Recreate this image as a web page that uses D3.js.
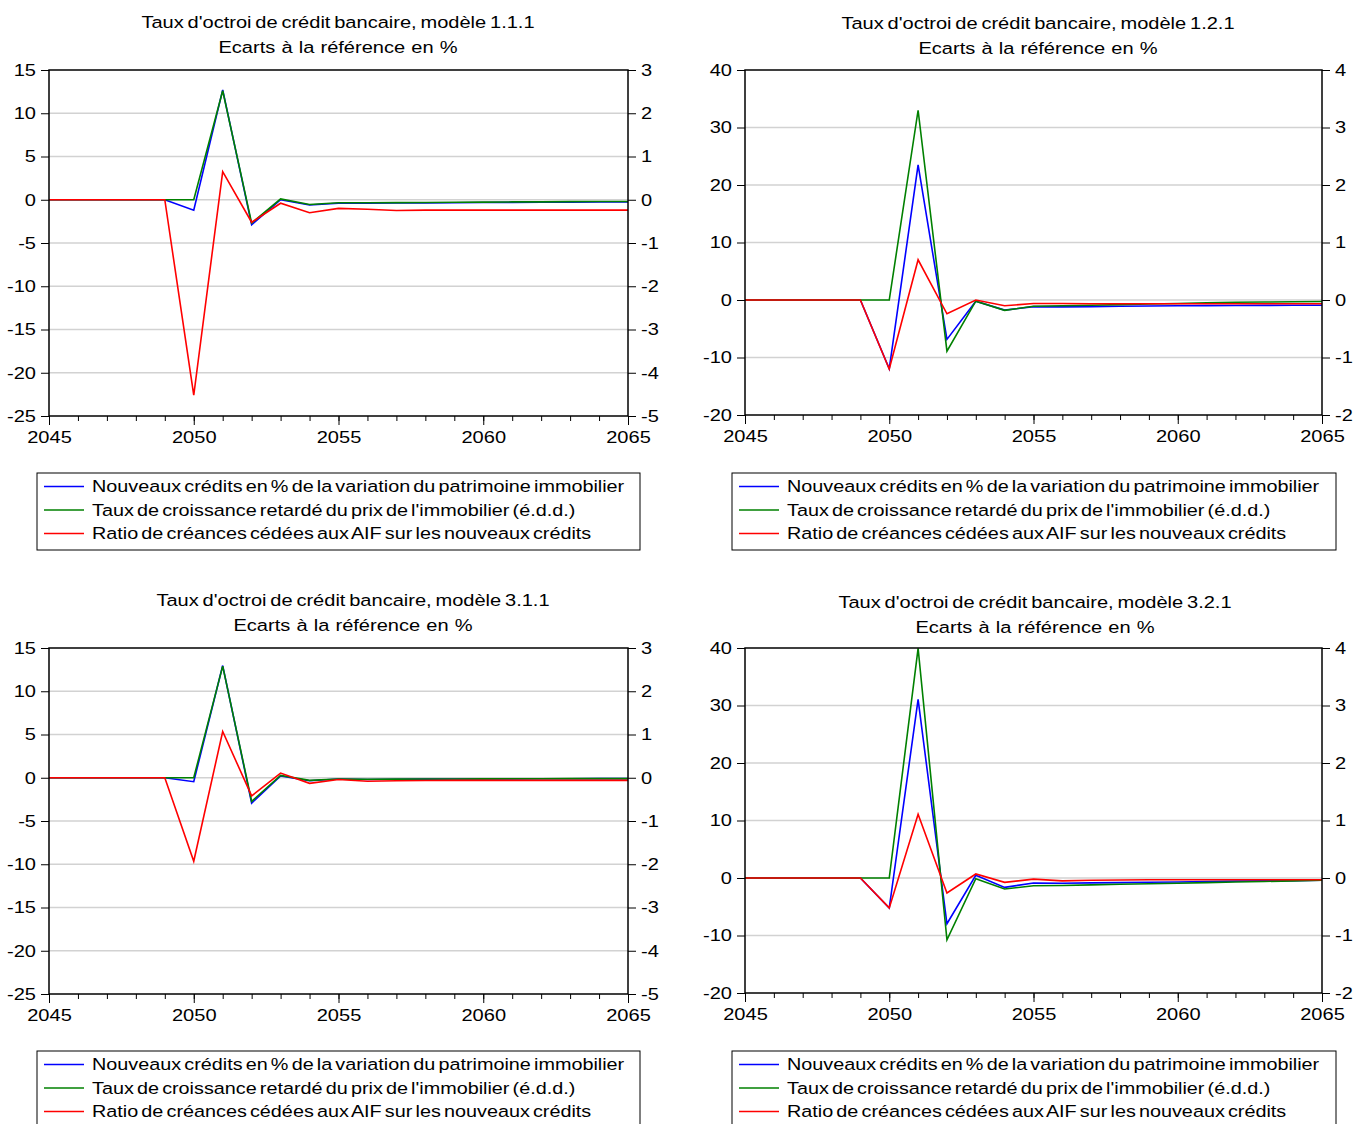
<!DOCTYPE html>
<html>
<head>
<meta charset="utf-8">
<script src="https://cdn.jsdelivr.net/npm/d3@7"></script>
<style>
  html, body { margin: 0; padding: 0; background: #ffffff; }
  svg { display: block; font-family: "Liberation Sans", Arial, sans-serif; }
</style>
</head>
<body>
<svg id="chart" width="1363" height="1124"></svg>
<script>
// ---------- DATA ----------
const years = [2045,2046,2047,2048,2049,2050,2051,2052,2053,2054,2055,2056,2057,2058,2059,2060,2061,2062,2063,2064,2065];
const xTickLabels = [2045, 2050, 2055, 2060, 2065];

const seriesNames = [
  "Nouveaux crédits en % de la variation du patrimoine immobilier",
  "Taux de croissance retardé du prix de l'immobilier (é.d.d.)",
  "Ratio de créances cédées aux AIF sur les nouveaux crédits"
];
const seriesColors = ["#0000ff", "#008000", "#ff0000"];

const titles111 = ["Taux d'octroi de crédit bancaire, modèle 1.1.1", "Ecarts à la référence en %"];
const titles121 = ["Taux d'octroi de crédit bancaire, modèle 1.2.1", "Ecarts à la référence en %"];
const titles311 = ["Taux d'octroi de crédit bancaire, modèle 3.1.1", "Ecarts à la référence en %"];
const titles321 = ["Taux d'octroi de crédit bancaire, modèle 3.2.1", "Ecarts à la référence en %"];

const leftTicksA = [15, 10, 5, 0, -5, -10, -15, -20, -25];
const rightTicksA = [3, 2, 1, 0, -1, -2, -3, -4, -5];
const leftTicksB = [40, 30, 20, 10, 0, -10, -20];
const rightTicksB = [4, 3, 2, 1, 0, -1, -2];

// Modèle 1.1.1 (blue, green: left axis; red: right axis)
const m111_nouveaux = [0,0,0,0,0,-1.2,12.7,-2.9,0.0,-0.6,-0.4,-0.4,-0.38,-0.36,-0.34,-0.32,-0.3,-0.28,-0.27,-0.25,-0.24];
const m111_taux     = [0,0,0,0,0,0,12.6,-2.7,0.1,-0.55,-0.35,-0.35,-0.33,-0.31,-0.29,-0.27,-0.25,-0.24,-0.22,-0.21,-0.2];
const m111_ratio    = [0,0,0,0,0,-4.52,0.65,-0.52,-0.08,-0.3,-0.2,-0.22,-0.25,-0.24,-0.24,-0.24,-0.24,-0.24,-0.24,-0.24,-0.24];

// Modèle 1.2.1
const m121_nouveaux = [0,0,0,0,0,-11.95,23.5,-6.85,-0.2,-1.75,-1.15,-1.2,-1.15,-1.1,-1.05,-1.0,-0.98,-0.96,-0.94,-0.92,-0.9];
const m121_taux     = [0,0,0,0,0,0,33.0,-8.9,-0.2,-1.8,-1.1,-1.0,-0.9,-0.8,-0.7,-0.6,-0.5,-0.4,-0.35,-0.3,-0.25];
const m121_ratio    = [0,0,0,0,0,-1.2,0.70,-0.24,0.0,-0.10,-0.06,-0.06,-0.065,-0.065,-0.065,-0.065,-0.065,-0.065,-0.065,-0.065,-0.065];

// Modèle 3.1.1
const m311_nouveaux = [0,0,0,0,0,-0.46,12.97,-2.93,0.2,-0.35,-0.15,-0.2,-0.18,-0.16,-0.15,-0.14,-0.13,-0.12,-0.11,-0.1,-0.1];
const m311_taux     = [0,0,0,0,0,0,12.9,-2.73,0.27,-0.3,-0.15,-0.18,-0.16,-0.15,-0.14,-0.13,-0.12,-0.11,-0.1,-0.1,-0.1];
const m311_ratio    = [0,0,0,0,0,-1.93,1.07,-0.42,0.108,-0.13,-0.04,-0.08,-0.07,-0.065,-0.06,-0.06,-0.06,-0.06,-0.06,-0.06,-0.06];

// Modèle 3.2.1
const m321_nouveaux = [0,0,0,0,0,-5.22,31.06,-7.96,0.46,-1.63,-0.87,-0.9,-0.85,-0.8,-0.75,-0.7,-0.62,-0.55,-0.5,-0.45,-0.4];
const m321_taux     = [0,0,0,0,0,0,39.95,-10.75,-0.12,-1.92,-1.34,-1.3,-1.2,-1.1,-1.0,-0.9,-0.8,-0.7,-0.6,-0.5,-0.4];
const m321_ratio    = [0,0,0,0,0,-0.52,1.11,-0.26,0.07,-0.076,-0.02,-0.05,-0.04,-0.035,-0.03,-0.03,-0.03,-0.03,-0.03,-0.03,-0.03];

// ---------- DRAWING ----------
const svg = d3.select("#chart");
const FONT = 17;
const SX = 1.18;      // horizontal stretch of the reference's lettering
const SX_LEG = 1.165; // legend lettering

function stretchBy(sx) {
  return function (sel) {
    sel.each(function () {
      const t = d3.select(this);
      const ax = +t.attr("x") || 0;
      const ay = +t.attr("y") || 0;
      t.attr("transform", `translate(${ax},${ay}) scale(${sx},1) translate(${-ax},${-ay})`);
    });
  };
}
const stretch = stretchBy(SX);
const stretchLeg = stretchBy(SX_LEG);
const fmt = d => String(d);

function drawPanel(cfg) {
  const g = svg.append("g");
  const x = d3.scaleLinear().domain([years[0], years[years.length - 1]]).range([cfg.x0, cfg.x1]);
  const yL = d3.scaleLinear().domain([d3.min(cfg.leftTicks), d3.max(cfg.leftTicks)]).range([cfg.y1, cfg.y0]);
  const yR = d3.scaleLinear().domain([d3.min(cfg.rightTicks), d3.max(cfg.rightTicks)]).range([cfg.y1, cfg.y0]);

  // titles
  cfg.titles.forEach((t, i) => {
    g.append("text")
      .attr("x", cfg.titleX)
      .attr("y", cfg.titleY + i * 25.5)
      .attr("text-anchor", "middle")
      .attr("font-size", FONT)
      .attr("word-spacing", i === 0 ? -1.5 : 0.5)
      .attr("fill", "#000")
      .text(t)
      .call(stretch);
  });

  // gridlines
  g.append("g").selectAll("line")
    .data(cfg.leftTicks.filter(v => v !== d3.min(cfg.leftTicks) && v !== d3.max(cfg.leftTicks)))
    .join("line")
    .attr("x1", cfg.x0).attr("x2", cfg.x1)
    .attr("y1", d => yL(d)).attr("y2", d => yL(d))
    .attr("stroke", "#d2d2d2").attr("stroke-width", 1.5);

  // left axis
  const axL = d3.axisLeft(yL).tickValues(cfg.leftTicks).tickSize(8).tickPadding(5).tickFormat(fmt);
  const gL = g.append("g").attr("transform", `translate(${cfg.x0},0)`).call(axL);
  gL.select(".domain").remove();
  gL.selectAll("line").attr("stroke", "#000").attr("stroke-width", 1);
  gL.selectAll("text").attr("font-size", FONT).attr("font-family", "Liberation Sans, Arial, sans-serif").attr("fill", "#000").call(stretch);

  // right axis
  const axR = d3.axisRight(yR).tickValues(cfg.rightTicks).tickSize(8).tickPadding(5).tickFormat(fmt);
  const gR = g.append("g").attr("transform", `translate(${cfg.x1},0)`).call(axR);
  gR.select(".domain").remove();
  gR.selectAll("line").attr("stroke", "#000").attr("stroke-width", 1);
  gR.selectAll("text").attr("font-size", FONT).attr("font-family", "Liberation Sans, Arial, sans-serif").attr("fill", "#000").call(stretch);

  // bottom axis: minor ticks every year, major at labels
  const axBminor = d3.axisBottom(x).tickValues(years).tickSize(5).tickFormat("");
  const gBm = g.append("g").attr("transform", `translate(0,${cfg.y1})`).call(axBminor);
  gBm.select(".domain").remove();
  gBm.selectAll("line").attr("stroke", "#000");
  const axB = d3.axisBottom(x).tickValues(xTickLabels).tickSize(9).tickPadding(6).tickFormat(fmt);
  const gB = g.append("g").attr("transform", `translate(0,${cfg.y1})`).call(axB);
  gB.select(".domain").remove();
  gB.selectAll("line").attr("stroke", "#000");
  gB.selectAll("text").attr("font-size", FONT).attr("font-family", "Liberation Sans, Arial, sans-serif").attr("fill", "#000").call(stretch);

  // series
  const lineL = d3.line().x((d, i) => x(years[i])).y(d => yL(d));
  const lineR = d3.line().x((d, i) => x(years[i])).y(d => yR(d));
  const series = [
    { values: cfg.blue, gen: lineL, color: seriesColors[0] },
    { values: cfg.green, gen: lineL, color: seriesColors[1] },
    { values: cfg.red, gen: lineR, color: seriesColors[2] }
  ];
  series.forEach(s => {
    g.append("path")
      .attr("d", s.gen(s.values))
      .attr("fill", "none")
      .attr("stroke", s.color)
      .attr("stroke-width", 1.6)
      .attr("stroke-linejoin", "miter");
  });

  // frame
  g.append("rect")
    .attr("x", cfg.x0).attr("y", cfg.y0)
    .attr("width", cfg.x1 - cfg.x0).attr("height", cfg.y1 - cfg.y0)
    .attr("fill", "none").attr("stroke", "#000").attr("stroke-width", 1.5);

  // legend
  const lg = g.append("g");
  lg.append("rect")
    .attr("x", cfg.legX).attr("y", cfg.legY)
    .attr("width", cfg.legW).attr("height", 77)
    .attr("fill", "#fff").attr("stroke", "#000").attr("stroke-width", 1);
  seriesNames.forEach((name, i) => {
    const cy = cfg.legY + 13.5 + i * 23.5;
    lg.append("line")
      .attr("x1", cfg.legX + 7).attr("x2", cfg.legX + 47)
      .attr("y1", cy).attr("y2", cy)
      .attr("stroke", seriesColors[i]).attr("stroke-width", 1.5);
    lg.append("text")
      .attr("x", cfg.legX + 55).attr("y", cy + 6)
      .attr("font-size", FONT)
      .attr("word-spacing", -2)
      .attr("fill", "#000")
      .text(name)
      .call(stretchLeg);
  });
}

drawPanel({ x0: 49, x1: 628, y0: 70, y1: 416, titleX: 338, titleY: 28, titles: titles111,
  leftTicks: leftTicksA, rightTicks: rightTicksA,
  blue: m111_nouveaux, green: m111_taux, red: m111_ratio,
  legX: 37, legY: 473, legW: 603 });

drawPanel({ x0: 745, x1: 1322, y0: 70, y1: 415, titleX: 1038, titleY: 29, titles: titles121,
  leftTicks: leftTicksB, rightTicks: rightTicksB,
  blue: m121_nouveaux, green: m121_taux, red: m121_ratio,
  legX: 732, legY: 473, legW: 604 });

drawPanel({ x0: 49, x1: 628, y0: 648, y1: 994, titleX: 353, titleY: 606, titles: titles311,
  leftTicks: leftTicksA, rightTicks: rightTicksA,
  blue: m311_nouveaux, green: m311_taux, red: m311_ratio,
  legX: 37, legY: 1051, legW: 603 });

drawPanel({ x0: 745, x1: 1322, y0: 648, y1: 993, titleX: 1035, titleY: 608, titles: titles321,
  leftTicks: leftTicksB, rightTicks: rightTicksB,
  blue: m321_nouveaux, green: m321_taux, red: m321_ratio,
  legX: 732, legY: 1051, legW: 604 });
</script>
</body>
</html>
